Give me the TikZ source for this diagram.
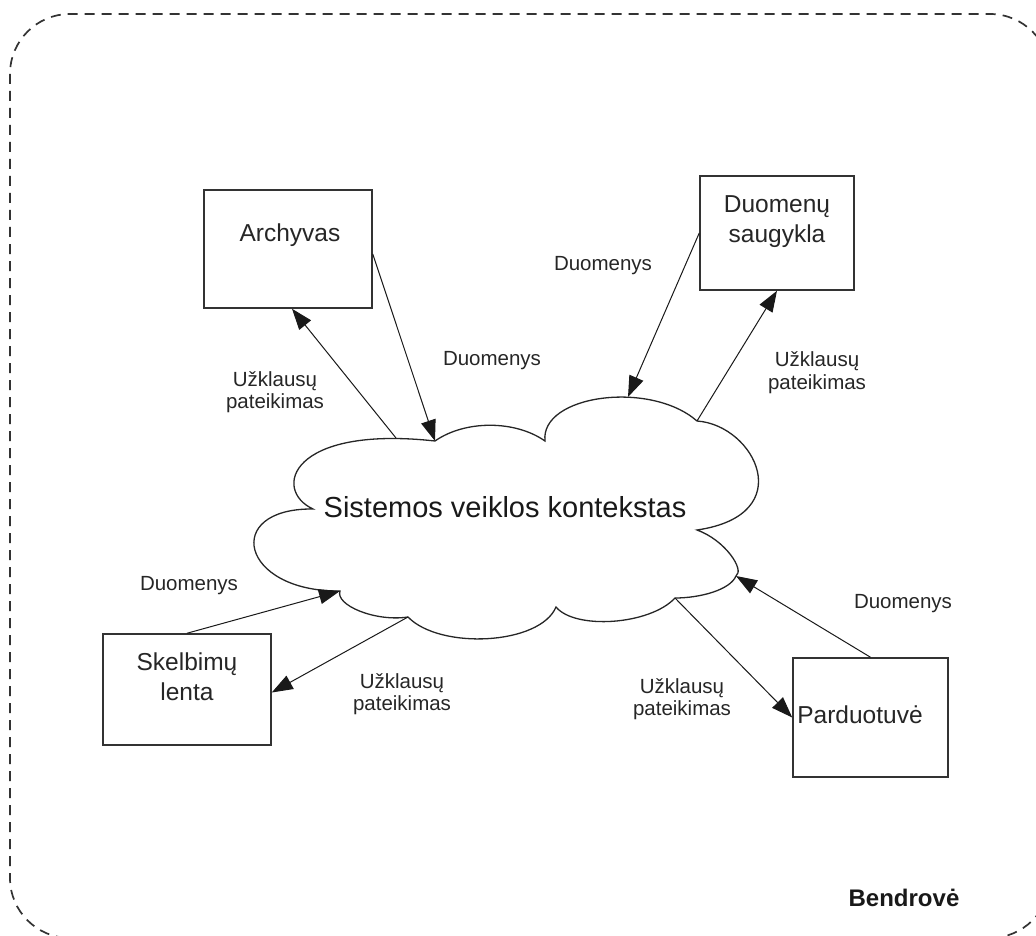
\documentclass[tikz,border=0pt]{standalone}
\usepackage{fontspec}
\setmainfont{Liberation Sans}
\usetikzlibrary{arrows.meta,calc}
\begin{document}
\begin{tikzpicture}[x=1pt,y=-1pt,
  entity/.style={draw=black!80, line width=1.5pt, fill=white, inner sep=0pt},
  boxtext/.style={font=\fontsize{24.5}{30}\selectfont, text=black!85, align=center, inner sep=0pt},
  flowtext/.style={font=\fontsize{20.5}{22.5}\selectfont, text=black!85, align=center, inner sep=0pt},
  flow/.style={line width=1pt, draw=black!90, -{Triangle[length=21pt,width=15pt]}},
  cloudline/.style={line width=1.3pt, draw=black!85, fill=white},
  frame/.style={line width=1.7pt, draw=black!80, dash pattern=on 10pt off 7pt, rounded corners=60pt}]
\useasboundingbox (0,0) rectangle (1036,936);
\clip (0,0) rectangle (1036,936);

% company boundary
\draw[frame] (10,14) rectangle (1050,938);
\node[font=\fontsize{24}{28}\selectfont\bfseries, text=black!90, anchor=base, inner sep=0pt] (company) at (904,906) {Bendrovė};

% cloud outline: lobes between the notch points
\coordinate (n1) at (313,509);
\coordinate (n2) at (435,441);
\coordinate (n3) at (545,441);
\coordinate (n4) at (697,421);
\coordinate (n5) at (697,530);
\coordinate (n6) at (736,576);
\coordinate (n7) at (675,598);
\coordinate (n8) at (556,607);
\coordinate (n9) at (408,617);
\coordinate (n10) at (340,591);
\coordinate (qA) at (396,438);
\coordinate (dS) at (628,397);
\draw[cloudline] (n1) .. controls (272,490) and (290,425) .. (n2)
  .. controls (465,420) and (515,420) .. (n3)
  .. controls (540,395) and (650,380) .. (n4)
  .. controls (755,425) and (800,515) .. (n5)
  .. controls (725,540) and (745,570) .. (n6)
  .. controls (730,590) and (700,598) .. (n7)
  .. controls (650,625) and (575,630) .. (n8)
  .. controls (540,645) and (440,650) .. (n9)
  .. controls (375,622) and (335,605) .. (n10)
  .. controls (240,592) and (222,508) .. cycle;
\node[font=\fontsize{29}{33}\selectfont, text=black!90, anchor=base, inner sep=0pt] (ctx) at (505,517) {Sistemos veiklos kontekstas};

% external entities
\node[entity, minimum width=168pt, minimum height=118pt] (arch) at (288,249) {};
\node[boxtext, anchor=base] (archT) at (290,242) {Archyvas};
\node[entity, minimum width=154pt, minimum height=114pt] (saug) at (777,233) {};
\node[boxtext] (saugT) at (777,222) {Duomenų\\saugykla};
\node[entity, minimum width=168pt, minimum height=111pt] (skel) at (187,689.5) {};
\node[boxtext] (skelT) at (187,676.5) {Skelbimų\\lenta};
\node[entity, minimum width=155pt, minimum height=119pt] (pard) at (870.5,717.5) {};
\node[boxtext, anchor=base] (pardT) at (860,723) {Parduotuvė};

% data flows
\draw[flow] (qA) -- ($(arch.south)+(4,0)$);
\draw[flow] ($(arch.east)+(0,5)$) -- (n2);
\draw[flow] (saug.west) -- (dS);
\draw[flow] (n4) -- (saug.south);
\draw[flow] (skel.north) -- (n10);
\draw[flow] (n9) -- ($(skel.east)+(0,3)$);
\draw[flow] (pard.north) -- (n6);
\draw[flow] (n7) -- (pard.west);

% flow labels
\node[flowtext] (lA1) at (275,392) {Užklausų\\pateikimas};
\node[flowtext, anchor=base] (lA2) at (492,365) {Duomenys};
\node[flowtext, anchor=base] (lS1) at (603,270) {Duomenys};
\node[flowtext] (lS2) at (817,372.5) {Užklausų\\pateikimas};
\node[flowtext, anchor=base] (lK1) at (189,590) {Duomenys};
\node[flowtext] (lK2) at (402,694) {Užklausų\\pateikimas};
\node[flowtext, anchor=base] (lP1) at (903,608) {Duomenys};
\node[flowtext] (lP2) at (682,699) {Užklausų\\pateikimas};
\end{tikzpicture}
\end{document}
